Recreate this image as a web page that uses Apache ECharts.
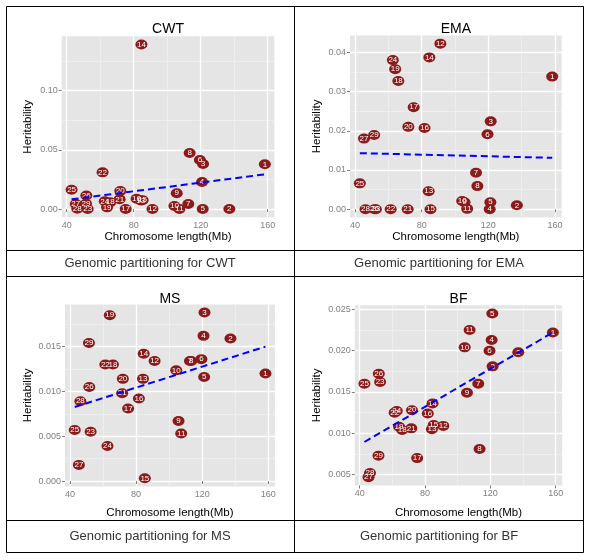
<!DOCTYPE html>
<html>
<head>
<meta charset="utf-8">
<script src="https://cdn.jsdelivr.net/npm/echarts@6/dist/echarts.min.js"></script>
<style>html,body{margin:0;padding:0;background:#fff}#c{width:589px;height:560px}</style>
</head>
<body>
<div id="c"></div>
<script>
// ---------------- data ----------------
const chromosomes = [1,2,3,4,5,6,7,8,9,10,11,12,13,14,15,16,17,18,19,20,21,22,23,24,25,26,27,28,29];
const chromLength = [158.3,137.1,121.4,120.8,121.2,119.5,112.6,113.4,105.7,104.3,107.3,91.2,84.2,84.6,85.3,81.7,75.2,66.0,64.1,72.0,71.6,61.4,52.5,62.7,42.9,51.7,45.4,46.3,51.5];
const cwtH = [0.0378,0.0,0.0380,0.0228,0.0,0.0414,0.0042,0.0473,0.0133,0.0025,0.0,0.0,0.0072,0.1390,0.0075,0.0087,0.0,0.0057,0.0014,0.0152,0.0082,0.0310,0.0,0.0065,0.0163,0.0114,0.0042,0.0003,0.0045];
const emaH = [0.0338,0.0010,0.0224,0.0,0.0018,0.0191,0.0093,0.0059,0.0018,0.0021,0.0001,0.0422,0.0046,0.0387,0.0,0.0207,0.0260,0.0327,0.0357,0.0210,0.0,0.0,0.0,0.0380,0.0066,0.0,0.0180,0.0,0.0189];
const msH = [0.0120,0.0159,0.0188,0.0162,0.0116,0.0136,0.0134,0.0134,0.0067,0.01235,0.0053,0.0134,0.0114,0.0142,0.0003,0.0092,0.0081,0.0130,0.0185,0.0114,0.0098,0.0130,0.0055,0.0039,0.0057,0.0105,0.0018,0.0089,0.0154];
const bfH = [0.0222,0.0198,0.0181,0.0213,0.0245,0.0200,0.0160,0.0081,0.0149,0.0204,0.0225,0.0109,0.0105,0.0136,0.0110,0.0124,0.0070,0.0104,0.0108,0.0128,0.0106,0.0125,0.0162,0.0127,0.0160,0.0172,0.0047,0.0052,0.0073];
// fitted regression lines (end points)
const trendX = [42.9, 158.3];
const cwtTrendY = [0.0082, 0.0293];
const emaTrendY = [0.0143, 0.0131];
const msTrendY = [0.00826, 0.0150];
const bfTrendY = [0.00895, 0.0222];
// ticks
const xTicks = [40, 80, 120, 160];
const xMinor = [60, 100, 140];
const cwtYTicks = [0, 0.05, 0.10];
const cwtYMinor = [0.025, 0.075, 0.125];
const emaYTicks = [0, 0.01, 0.02, 0.03, 0.04];
const emaYMinor = [0.005, 0.015, 0.025, 0.035];
const msYTicks = [0, 0.005, 0.010, 0.015];
const msYMinor = [0.0025, 0.0075, 0.0125, 0.0175];
const bfYTicks = [0.005, 0.010, 0.015, 0.020, 0.025];
const bfYMinor = [0.0075, 0.0125, 0.0175, 0.0225];
const traits = ['CWT', 'EMA', 'MS', 'BF'];
const captions = ['Genomic partitioning for CWT', 'Genomic partitioning for EMA', 'Genomic partitioning for MS', 'Genomic partitioning for BF'];
const xTitle = 'Chromosome length(Mb)';
const yTitle = 'Heritability';

// ---------------- layout ----------------
const FONT = '"Liberation Sans", Arial, sans-serif';
const panels = [
  {h: cwtH, trend: cwtTrendY, yT: cwtYTicks, yM: cwtYMinor, dec: 2, yMin: -0.007, yMax: 0.146,
   grid: {left: 61.7, top: 36.3, width: 212.7, height: 181}, yName: 28, xNameY: 237, titleY: 29},
  {h: emaH, trend: emaTrendY, yT: emaYTicks, yM: emaYMinor, dec: 2, yMin: -0.0021, yMax: 0.0443,
   grid: {left: 350, top: 35.4, width: 211.7, height: 182.1}, yName: 317, xNameY: 237, titleY: 29},
  {h: msH, trend: msTrendY, yT: msYTicks, yM: msYMinor, dec: 3, yMin: -0.0006, yMax: 0.0197,
   grid: {left: 65, top: 304.5, width: 209.9, height: 181.9}, yName: 28, xNameY: 513, titleY: 299},
  {h: bfH, trend: bfTrendY, yT: bfYTicks, yM: bfYMinor, dec: 3, yMin: 0.0037, yMax: 0.0255,
   grid: {left: 354.8, top: 305.2, width: 207.4, height: 180.2}, yName: 317, xNameY: 513, titleY: 299}
];
const X_MIN = 37, X_MAX = 164;

const grids = [], xAxes = [], yAxes = [], series = [], graphics = [];
panels.forEach((p, i) => {
  grids.push(Object.assign({show: true, backgroundColor: '#E5E5E5', borderWidth: 0}, p.grid));
  // major x
  xAxes.push({type: 'value', gridIndex: i, min: X_MIN, max: X_MAX, position: 'bottom',
    axisLine: {show: false},
    axisTick: {show: true, length: 3, customValues: xTicks, lineStyle: {color: '#7f7f7f'}},
    axisLabel: {customValues: xTicks, color: '#7f7f7f', fontSize: 9, fontFamily: FONT, margin: 4},
    splitLine: {show: true, lineStyle: {color: '#ffffff', width: 1.3}}, z: 2});
  // minor x (grid only)
  xAxes.push({type: 'value', gridIndex: i, min: X_MIN, max: X_MAX, position: 'top',
    axisLine: {show: false}, axisTick: {show: false, customValues: xMinor},
    axisLabel: {show: false, customValues: xMinor},
    splitLine: {show: true, lineStyle: {color: '#F3F3F3', width: 0.6}}, z: 1});
  yAxes.push({type: 'value', gridIndex: i, min: p.yMin, max: p.yMax, position: 'left',
    axisLine: {show: false},
    axisTick: {show: true, length: 3, customValues: p.yT, lineStyle: {color: '#7f7f7f'}},
    axisLabel: {customValues: p.yT, color: '#7f7f7f', fontSize: 9, fontFamily: FONT, margin: 4,
      formatter: v => Number(v).toFixed(p.dec)},
    splitLine: {show: true, lineStyle: {color: '#ffffff', width: 1.3}}, z: 2});
  yAxes.push({type: 'value', gridIndex: i, min: p.yMin, max: p.yMax, position: 'right',
    axisLine: {show: false}, axisTick: {show: false, customValues: p.yM},
    axisLabel: {show: false, customValues: p.yM},
    splitLine: {show: true, lineStyle: {color: '#F3F3F3', width: 0.6}}, z: 1});

  series.push({type: 'scatter', xAxisIndex: 2 * i, yAxisIndex: 2 * i,
    symbol: 'circle', symbolSize: [12, 10],
    itemStyle: {color: '#8B1A1A', opacity: 1},
    label: {show: true, position: 'inside', color: '#ffffff', fontSize: 8, fontFamily: FONT,
      formatter: d => d.value[2]},
    data: chromLength.map((x, k) => [x, p.h[k], chromosomes[k]]),
    z: 3, silent: true, animation: false});
  series.push({type: 'line', xAxisIndex: 2 * i, yAxisIndex: 2 * i,
    showSymbol: false, symbol: 'none',
    lineStyle: {color: '#0000FF', width: 2, type: [7, 4]},
    data: trendX.map((x, k) => [x, p.trend[k]]),
    z: 4, silent: true, animation: false});

  const cx = p.grid.left + p.grid.width / 2;
  const cy = p.grid.top + p.grid.height / 2;
  graphics.push({type: 'text', x: cx, y: p.titleY, style: {text: traits[i], font: '14px ' + FONT, fill: '#000', align: 'center', verticalAlign: 'middle'}});
  graphics.push({type: 'text', x: cx, y: p.xNameY, style: {text: xTitle, font: '11.5px ' + FONT, fill: '#000', align: 'center', verticalAlign: 'middle'}});
  graphics.push({type: 'text', x: p.yName, y: cy, rotation: Math.PI / 2, style: {text: yTitle, font: '11.5px ' + FONT, fill: '#000', align: 'center', verticalAlign: 'middle'}});
});

// table frame and captions
const capY = [263, 263, 536, 536];
const capX = [150, 439, 150, 439];
captions.forEach((c, i) => {
  graphics.push({type: 'text', x: capX[i], y: capY[i], style: {text: c, font: '13px ' + FONT, fill: '#333', align: 'center', verticalAlign: 'middle'}});
});
const ls = {stroke: '#000', lineWidth: 1};
graphics.push({type: 'rect', shape: {x: 6.5, y: 6.5, width: 577, height: 546}, style: {fill: null, stroke: '#000', lineWidth: 1}});
graphics.push({type: 'line', shape: {x1: 294.5, y1: 6.5, x2: 294.5, y2: 552.5}, style: ls});
[250.5, 276.5, 520.5].forEach(y => graphics.push({type: 'line', shape: {x1: 6.5, y1: y, x2: 583.5, y2: y}, style: ls}));

const chart = echarts.init(document.getElementById('c'), null, {renderer: 'canvas'});
chart.setOption({
  animation: false,
  backgroundColor: '#ffffff',
  grid: grids,
  xAxis: xAxes,
  yAxis: yAxes,
  series: series,
  graphic: graphics
});
</script>
</body>
</html>
